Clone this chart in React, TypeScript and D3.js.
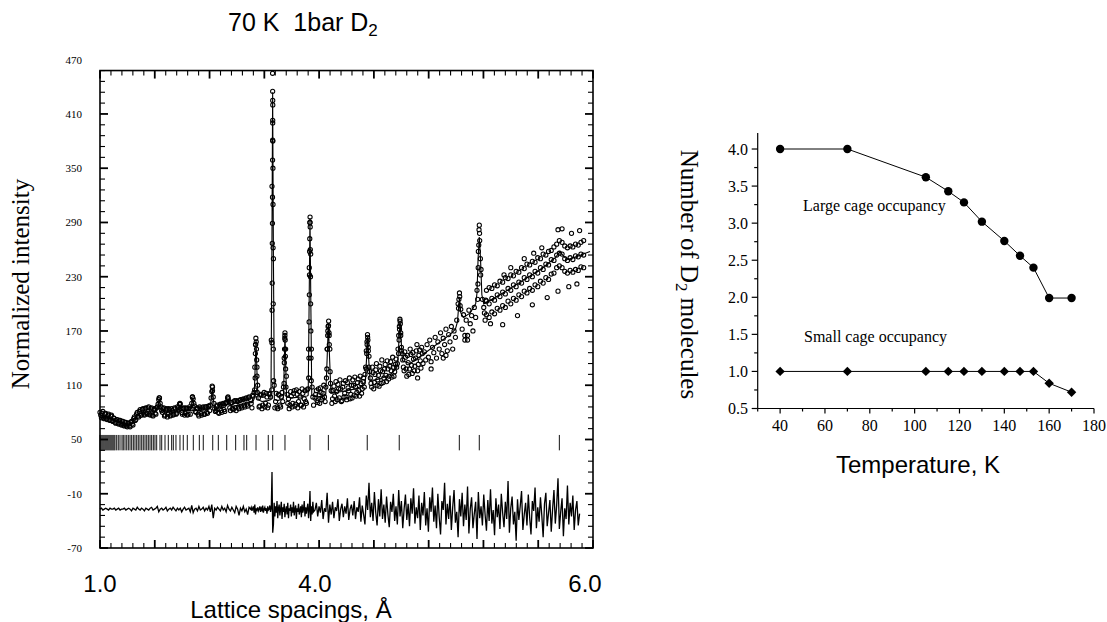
import React from "react";
import * as d3 from "d3";

// ---------------- Left panel: diffraction pattern (70 K, 1 bar D2) ----------------
const xTickLabels = ["1.0", "4.0", "6.0"];
const xTickValues = [1.0, 4.0, 6.0];
const yTickValues = [-70, -10, 50, 110, 170, 230, 290, 350, 410, 470];

// reflection positions (d-spacing, Å)
const reflections = [
  1.000, 1.014, 1.028, 1.042, 1.056, 1.070, 1.084, 1.098, 1.112, 1.126, 1.140, 1.154, 1.168, 1.182, 1.196, 1.209,
  1.233, 1.255, 1.279, 1.307, 1.325, 1.349, 1.373, 1.395, 1.419, 1.442, 1.465, 1.488, 1.512, 1.534, 1.558, 1.582,
  1.604, 1.628, 1.652, 1.674, 1.698, 1.721, 1.744, 1.767, 1.791, 1.837, 1.861, 1.907, 1.953, 2.000, 2.023, 2.060,
  2.116, 2.162, 2.218, 2.302, 2.386, 2.441, 2.573, 2.651, 2.768, 2.893, 3.009, 3.047, 3.177, 3.348, 3.410, 3.581,
  3.930, 4.099, 4.387, 4.624, 5.069, 5.217, 5.810,
];

// calculated profile [d, intensity]
const calcProfile: [number, number][] = [
  [1.000, 77], [1.070, 76], [1.140, 74], [1.210, 71], [1.279, 70], [1.349, 68], [1.400, 67], [1.440, 68], [1.490, 74],
  [1.530, 78], [1.600, 80], [1.698, 81], [1.760, 80],
  [1.795, 82], [1.815, 90], [1.827, 95], [1.840, 89], [1.860, 81],
  [1.930, 80], [2.000, 81],
  [2.090, 82], [2.116, 88], [2.140, 82],
  [2.200, 82],
  [2.265, 83], [2.282, 90], [2.293, 96], [2.305, 90], [2.325, 82],
  [2.400, 82], [2.480, 83],
  [2.535, 84], [2.553, 96], [2.567, 107], [2.580, 95], [2.600, 83],
  [2.680, 85], [2.740, 86],
  [2.770, 88], [2.786, 95], [2.800, 88],
  [2.860, 87], [2.950, 88], [3.050, 90], [3.130, 91],
  [3.150, 95], [3.163, 125], [3.177, 160], [3.190, 125], [3.205, 94],
  [3.260, 92], [3.340, 93],
  [3.385, 94], [3.398, 250], [3.409, 434], [3.420, 250], [3.433, 94],
  [3.480, 93], [3.550, 95],
  [3.560, 97], [3.570, 130], [3.581, 167], [3.592, 130], [3.603, 97],
  [3.680, 96], [3.800, 97], [3.890, 98],
  [3.905, 99], [3.918, 200], [3.930, 295], [3.942, 200], [3.955, 99],
  [4.010, 97], [4.060, 98],
  [4.080, 100], [4.090, 140], [4.099, 178], [4.108, 140], [4.118, 101],
  [4.200, 103], [4.300, 106], [4.360, 110],
  [4.372, 112], [4.382, 140], [4.390, 164], [4.398, 138], [4.408, 115],
  [4.480, 117], [4.560, 122], [4.600, 128],
  [4.612, 132], [4.622, 160], [4.630, 180], [4.638, 160], [4.648, 137],
  [4.704, 134], [4.800, 144], [4.900, 155], [5.000, 166], [5.040, 172],
  [5.055, 180], [5.069, 206], [5.080, 190], [5.100, 185], [5.150, 190], [5.190, 200],
  [5.200, 212], [5.208, 250], [5.217, 274], [5.226, 250], [5.236, 210], [5.250, 200],
  [5.370, 210], [5.520, 224], [5.670, 238], [5.780, 251], [5.815, 258], [5.845, 252], [5.874, 249], [5.950, 253],
  [6.037, 258],
];

// observed intensities on the measurement grid (start d, step in d)
const obsAStart = 1.0, obsAStep = 0.02;
const obsA = [
  80, 74, 81, 73, 79, 72, 78, 71, 77, 70,
  73, 68, 72, 67, 71, 66, 70, 65, 69, 64,
  68, 64, 70, 66, 75, 72, 80, 75, 83, 77,
  84, 77, 85, 78, 86, 77, 85, 76, 84, 78,
  86, 94, 90, 82, 84, 76, 83, 75, 84, 76,
  84, 77, 85, 78, 86, 83, 89, 80, 84, 77,
  85, 77, 84, 78, 90, 95, 87, 80, 85, 76,
  85, 77, 86, 78, 86, 79, 87, 88, 103, 97,
  84, 82, 88, 79, 89, 80, 90, 81, 91, 96,
  92, 82, 91, 83, 93, 82, 92, 84, 94, 85,
  95, 86, 96, 87, 97,
];
const obsA2Start = 1.01, obsA2Step = 0.02;
const obsA2 = [
  77, 79, 74, 78, 73, 77, 72, 76, 71, 74,
  69, 72, 68, 71, 67, 70, 66, 69, 65, 68,
  65, 69, 67, 73, 71, 78, 76, 81, 77, 83,
  78, 84, 79, 85, 78, 84, 77, 83, 79, 85,
  89, 96, 86, 80, 85, 77, 84, 78, 83, 77,
  82, 78, 84, 79, 85, 89, 84, 78, 85, 79,
  84, 78, 86, 84, 97, 90, 81, 84, 78, 86,
  79, 85, 78, 86, 80, 87, 82, 96, 108, 90,
  81, 87, 80, 88, 82, 89, 83, 90, 91, 95,
  85, 91, 84, 92, 85, 93, 86, 93, 87, 94,
  88, 95, 89, 96,
];
const obsBStart = 3.1, obsBStep = 0.02;
const obsB = [
  94, 85, 98, 130, 158, 110, 86, 100, 84, 99,
  86, 101, 85, 100, 97, 330, 250, 85, 101, 84,
  99, 86, 102, 108, 165, 120, 90, 84, 103, 86,
  101, 87, 105, 85, 103, 88, 106, 86, 104, 90,
  106, 240, 255, 108, 88,
];
const obsB2Start = 3.11, obsB2Step = 0.02;
const obsB2 = [
  90, 99, 102, 155, 130, 96, 87, 99, 88, 102,
  90, 97, 88, 101, 160, 400, 110, 92, 86, 100,
  88, 97, 92, 140, 150, 100, 95, 88, 98, 90,
  104, 89, 100, 92, 97, 88, 101, 95, 92, 105,
  150, 290, 150, 97,
];
const obsCStart = 4.0, obsCStep = 0.01;
const obsC = [
  96, 104, 91, 99, 107, 94, 101, 97, 108, 150,
  176, 150, 104, 95, 109, 92, 103, 111, 96, 106,
  93, 112, 101, 97, 113, 104, 95, 110, 116, 99,
  108, 102, 117, 98, 112, 106, 118, 122, 148, 163,
  142, 118, 108, 124, 113, 127, 110, 121, 131, 112,
  125, 118, 133, 114, 128, 120, 136, 119, 130, 125,
  139, 134, 165, 181, 152, 138, 126, 141, 120, 135,
  128, 144, 123, 139, 131, 148, 126, 143, 137, 152,
  134,
];
const obsC2Start = 4.005, obsC2Step = 0.01;
const obsC2 = [
  100, 93, 106, 90, 102, 96, 110, 92, 118, 170,
  165, 112, 90, 104, 98, 114, 94, 106, 116, 92,
  108, 97, 115, 94, 107, 118, 100, 96, 110, 119,
  98, 113, 104, 120, 101, 114, 108, 130, 158, 152,
  125, 112, 130, 106, 122, 134, 116, 109, 126, 138,
  113, 128, 121, 137, 117, 131, 126, 141, 120, 133,
  130, 150, 175, 168, 145, 130, 147, 128, 143, 122,
  150, 132, 146, 126, 140, 155, 133, 149, 129, 145,
];
const obsDStart = 4.81, obsDStep = 0.01;
const obsD = [
  147, 138, 155, 141, 160, 136, 152, 146, 163, 140,
  158, 150, 168, 145, 162, 155, 172, 148, 166, 158,
  175, 150, 170, 163, 182, 200, 212, 194, 172, 188,
  165, 182, 160, 193, 178, 187, 170, 196, 185, 215,
  258, 270, 238, 205, 196,
];
// long-d region: three detector bands
const bandStart = 5.27, bandStep = 0.02;
const bandUpper = [
  215, 218, 217, 221, 220, 225, 224, 229, 228, 232, 231, 236, 235, 240, 239, 244, 243, 247, 246, 251,
  250, 255, 254, 258, 259, 263, 266, 270, 268, 264, 262, 264, 263, 266, 265, 268, 270,
];
const bandMiddle = [
  203, 200, 206, 204, 210, 208, 213, 211, 217, 215, 221, 219, 224, 223, 229, 227, 232, 230, 236, 234,
  240, 238, 244, 243, 249, 248, 254, 256, 255, 250, 248, 251, 249, 253, 252, 255, 254,
];
const bandLower = [
  188, 185, 191, 189, 195, 193, 198, 196, 203, 200, 206, 204, 210, 208, 214, 212, 217, 215, 221, 219,
  225, 223, 229, 227, 233, 234, 240, 242, 240, 236, 234, 237, 235, 238, 237, 241, 240,
];
// extra observed points on peak flanks and scattered points [d, intensity]
const obsExtra: [number, number][] = [
  [1.825, 96], [2.115, 90], [2.29, 97], [2.565, 109], [2.57, 104], [2.786, 97],
  [3.158, 105], [3.165, 118], [3.168, 145], [3.172, 155], [3.175, 162], [3.183, 150], [3.186, 138], [3.190, 120], [3.195, 102],
  [3.397, 105], [3.399, 157], [3.401, 193], [3.403, 223], [3.404, 267], [3.406, 289], [3.407, 318], [3.408, 359],
  [3.409, 381], [3.410, 403], [3.410, 425], [3.409, 435], [3.408, 455], [3.411, 420], [3.412, 380], [3.413, 350],
  [3.414, 310], [3.415, 262], [3.417, 200], [3.419, 150], [3.422, 115],
  [3.568, 112], [3.572, 135], [3.575, 150], [3.578, 162], [3.581, 168], [3.584, 160], [3.587, 142], [3.590, 128], [3.595, 108],
  [3.912, 118], [3.915, 140], [3.918, 180], [3.921, 210], [3.923, 232], [3.925, 258], [3.927, 272], [3.929, 290],
  [3.931, 296], [3.933, 285], [3.935, 260], [3.937, 230], [3.939, 200], [3.942, 170], [3.945, 140], [3.948, 115],
  [4.088, 128], [4.091, 150], [4.094, 165], [4.097, 175], [4.101, 181], [4.104, 168], [4.106, 155], [4.112, 125],
  [4.380, 128], [4.383, 145], [4.386, 155], [4.389, 166], [4.392, 160], [4.395, 148], [4.399, 130],
  [4.619, 145], [4.623, 160], [4.626, 172], [4.629, 183], [4.632, 178], [4.635, 165], [4.640, 148],
  [5.063, 195], [5.066, 205], [5.072, 208], [5.075, 198],
  [5.205, 205], [5.207, 222], [5.209, 240], [5.213, 265], [5.215, 282], [5.217, 287], [5.219, 278], [5.225, 250], [5.227, 232],
  [5.255, 190], [5.26, 182], [5.265, 204],
  [5.30, 178], [5.39, 177], [5.50, 187], [5.61, 199], [5.72, 207], [5.80, 214], [5.88, 219], [5.94, 222],
  [5.40, 232], [5.45, 240], [5.55, 250], [5.62, 256], [5.68, 262], [5.80, 282], [5.83, 283], [5.90, 278], [5.96, 281],
  [4.95, 140], [4.97, 143], [5.11, 160], [5.13, 165], [4.86, 128], [4.76, 118],
];

// difference curve (obs - calc, offset), on the measurement grid
const diffAStart = 1.0, diffAStep = 0.02;
const diffA = [
  -27, -26, -28, -27, -26, -27, -28, -26, -27, -27,
  -26, -28, -27, -26, -28, -27, -27, -26, -28, -27,
  -26, -27, -29, -26, -27, -28, -25, -27, -28, -26,
  -27, -29, -26, -27, -28, -26, -25, -28, -27, -26,
  -24, -30, -27, -26, -28, -27, -25, -29, -27, -26,
  -28, -25, -27, -29, -26, -28, -26, -30, -27, -25,
  -28, -27, -26, -30, -23, -31, -27, -26, -29, -24,
  -28, -27, -25, -29, -26, -28, -24, -30, -22, -37,
  -26, -28, -25, -27, -29, -24, -28, -26, -30, -23,
  -27, -29, -25, -28, -31, -24, -27, -34, -26, -29,
  -24, -30, -27, -33, -25,
];
const diffBStart = 3.1, diffBStep = 0.01;
const diffB = [
  -27, -25, -29, -26, -24, -31, -22, -33, -26, -28,
  -25, -29, -27, -24, -30, -26, -28, -23, -31, -27,
  -25, -29, -26, -32, -24, -28, -27, -23, -30, -26,
  14, -53, -44, -20, -35, -24, -31, -18, -37, -26,
  -22, -34, -27, -19, -38, -25, -30, -21, -36, -28,
  -24, -33, -20, -37, -26, -29, -22, -35, -25, -31,
  -19, -34, -27, -23, -38, -26, -30, -21, -33, -28,
  -24, -36, -22, -31, -27, -18, -35, -25, -32, -26,
  -21, -37, -28, -7, -40, -24, -33, -19, -30,
];
const diffCStart = 4.0, diffCStep = 0.01;
const diffC = [
  -28, -20, -35, -24, -31, -17, -38, -26, -30, -9,
  -42, -22, -33, -19, -37, -25, -29, -16, -40, -27,
  -21, -36, -24, -32, -15, -39, -27, -22, -34, -18,
  -38, -25, -30, -14, -41, -23, -33, -44, -12, -28,
  2, -36, -20, -40, -8, -31, -45, -16, -35, -5,
  -38, -22, -42, -13, -33, -47, -19, -30, -10, -40,
  -24, -44, -6, -35, -18, -48, -27, -11, -39, -21,
  -46, -15, -32, -4, -43, -25, -37, -12, -50, -20,
  -34, -8, -45, -26, -52, -14, -30, -3, -41, -23,
  -48, -10, -36, -55, -18, -28, 2, -44, -21, -38,
  -12, -50, -25, -6, -42, -30, -58, -16, -35, -9,
  -46, -22, -39, -2, -54, -27, -14, -48, -32, -19,
  -60, -8, -37, -24, -45, -11, -33, -51, -17, -40,
  -5, -43, -28, -56, -15, -36, -22, -49, -10, -31,
  -47, -19, -38, 4, -53, -26, -13, -44, -30, -62,
  -16, -39, -24, -7, -50, -33, -20, -45, -11, -36,
  -55, -18, -29, -3, -48, -25, -41, -14, -34, -58,
  -21, -9, -46, -31, -17, -52, -27, -6, -43, -23,
  7, -49, -30, -15, -57, -26, -38, -1, -44, -20,
  -35, -12, -50, -28, -18, -45, -32,
];

// ---------------- Right panel: cage occupancy vs temperature ----------------
const temperatures = [40, 70, 105, 115, 122, 130, 140, 147, 153, 160, 170];
const largeCage = [4.0, 4.0, 3.62, 3.43, 3.28, 3.02, 2.76, 2.56, 2.40, 1.99, 1.99];
const smallCage = [1.0, 1.0, 1.0, 1.0, 1.0, 1.0, 1.0, 1.0, 1.0, 0.84, 0.72];
const tempMajorTicks = [40, 60, 80, 100, 120, 140, 160, 180];
const tempMinorTicks = [30, 50, 70, 90, 110, 130, 150, 170];
const occMajorTicks = [0.5, 1.0, 1.5, 2.0, 2.5, 3.0, 3.5, 4.0];
const occMinorTicks = [0.75, 1.25, 1.75, 2.25, 2.75, 3.25, 3.75];

const SERIF = "'Liberation Serif', 'Times New Roman', serif";
const SANS = "'Liberation Sans', Arial, sans-serif";

const expand = (start: number, step: number, vals: number[]): [number, number][] =>
  vals.map((v, i) => [start + i * step, v]);

export default function App() {
  // left scales (hand-labelled d-spacing axis, piecewise linear)
  const xL = d3.scaleLinear().domain([1, 4, 6]).range([100, 315, 585]);
  const yL = d3.scaleLinear().domain([-70, 470]).range([548, 59.7]);
  const fLeft = 100, fRight = 593, fBottom = yL(-70), fTop = yL(458);
  const frameX = d3.scaleLinear().domain([0, 45]).range([fLeft, fRight]);

  const obsPoints: [number, number][] = [
    ...expand(obsAStart, obsAStep, obsA),
    ...expand(obsA2Start, obsA2Step, obsA2),
    ...expand(obsBStart, obsBStep, obsB),
    ...expand(obsB2Start, obsB2Step, obsB2),
    ...expand(obsCStart, obsCStep, obsC),
    ...expand(obsC2Start, obsC2Step, obsC2),
    ...expand(obsDStart, obsDStep, obsD),
    ...expand(bandStart, bandStep, bandUpper),
    ...expand(bandStart, bandStep, bandMiddle),
    ...expand(bandStart, bandStep, bandLower),
    ...obsExtra,
  ];
  const diffPoints: [number, number][] = [
    ...expand(diffAStart, diffAStep, diffA),
    ...expand(diffBStart, diffBStep, diffB),
    ...expand(diffCStart, diffCStep, diffC),
  ];
  const line = d3.line<[number, number]>().x((d) => xL(d[0])).y((d) => yL(d[1]));

  const yFrameTicks = d3.range(-70, 459, 12);
  const xFrameTicks = d3.range(0, 46, 1);

  // right scales
  const xR = d3.scaleLinear().domain([30, 180]).range([757.7, 1094]);
  const yR = d3.scaleLinear().domain([0.5, 4.216]).range([408.5, 133]);
  const lineR = d3.line<number>().x((_, i) => xR(temperatures[i])).y((v) => yR(v));
  const diamond = d3.symbol().type(d3.symbolSquare).size(44)() as string;

  return (
    <svg width={1107} height={622} style={{ position: "absolute", left: 0, top: 0, background: "#fff" }}>
      <rect x={0} y={0} width={1107} height={622} fill="#fff" />
      {/* ---------- LEFT PANEL ---------- */}
      <text x={228} y={31} fontFamily={SANS} fontSize={25} style={{ whiteSpace: "pre" }} fill="#000">
        70 K  1bar D<tspan fontSize={17} dy={5}>2</tspan>
      </text>

      <g>
        {obsPoints.map((p, i) => (
          <circle key={i} cx={xL(p[0])} cy={yL(p[1])} r={2.1} fill="none" stroke="#000" strokeWidth={1.05} />
        ))}
      </g>
      <path d={line(calcProfile) || ""} fill="none" stroke="#000" strokeWidth={1.1} />
      <path d={line(diffPoints) || ""} fill="none" stroke="#000" strokeWidth={1.3} />

      <g stroke="#111" strokeWidth={1}>
        {reflections.map((d, i) => (
          <line key={i} x1={xL(d)} x2={xL(d)} y1={yL(55)} y2={yL(38)} />
        ))}
      </g>

      {/* frame */}
      <rect x={fLeft} y={fTop} width={fRight - fLeft} height={fBottom - fTop} fill="none" stroke="#000" strokeWidth={1.6} />
      <g stroke="#000" strokeWidth={1.2}>
        {yFrameTicks.map((v) => {
          const major = (v + 70) % 60 === 0;
          const len = major ? 8 : 5;
          return (
            <g key={"yt" + v}>
              <line x1={fLeft} x2={fLeft + len} y1={yL(v)} y2={yL(v)} strokeWidth={major ? 1.8 : 1.1} />
              <line x1={fRight} x2={fRight - len} y1={yL(v)} y2={yL(v)} strokeWidth={major ? 1.8 : 1.1} />
            </g>
          );
        })}
        {xFrameTicks.map((i) => {
          const major = i % 5 === 0;
          const len = major ? 8 : 5;
          return (
            <g key={"xt" + i}>
              <line x1={frameX(i)} x2={frameX(i)} y1={fTop} y2={fTop + len} strokeWidth={major ? 1.8 : 1.1} />
              <line x1={frameX(i)} x2={frameX(i)} y1={fBottom} y2={fBottom - len} strokeWidth={major ? 1.8 : 1.1} />
            </g>
          );
        })}
      </g>
      {yTickValues.map((v) => (
        <text key={"yl" + v} x={82} y={yL(v)} textAnchor="end" dominantBaseline="central" fontFamily={SERIF} fontSize={11} fill="#000">
          {String(v)}
        </text>
      ))}
      {xTickValues.map((v, i) => (
        <text key={"xl" + v} x={xL(v)} y={592} textAnchor="middle" fontFamily={SANS} fontSize={24} fill="#000">
          {xTickLabels[i]}
        </text>
      ))}
      <text x={291} y={618} textAnchor="middle" fontFamily={SANS} fontSize={24} fill="#000">
        Lattice spacings, Å
      </text>
      <text transform="translate(29,284) rotate(-90)" textAnchor="middle" fontFamily={SERIF} fontSize={25} fill="#000">
        Normalized intensity
      </text>

      {/* ---------- RIGHT PANEL ---------- */}
      <g stroke="#000" strokeWidth={1.2}>
        <line x1={xR(30)} x2={xR(30)} y1={yR(4.216)} y2={yR(0.5)} />
        <line x1={xR(30)} x2={xR(180)} y1={yR(0.5)} y2={yR(0.5)} />
        {occMajorTicks.map((v) => (
          <line key={"om" + v} x1={xR(30) - 6} x2={xR(30)} y1={yR(v)} y2={yR(v)} />
        ))}
        {occMinorTicks.map((v) => (
          <line key={"on" + v} x1={xR(30) - 3.5} x2={xR(30)} y1={yR(v)} y2={yR(v)} />
        ))}
        {tempMajorTicks.map((v) => (
          <line key={"tm" + v} x1={xR(v)} x2={xR(v)} y1={yR(0.5)} y2={yR(0.5) + 5} />
        ))}
        {tempMinorTicks.map((v) => (
          <line key={"tn" + v} x1={xR(v)} x2={xR(v)} y1={yR(0.5)} y2={yR(0.5) + 3} />
        ))}
      </g>
      {occMajorTicks.map((v) => (
        <text key={"ol" + v} x={748} y={yR(v)} textAnchor="end" dominantBaseline="central" fontFamily={SERIF} fontSize={16} fill="#000">
          {v.toFixed(1)}
        </text>
      ))}
      {tempMajorTicks.map((v) => (
        <text key={"tl" + v} x={xR(v)} y={431} textAnchor="middle" fontFamily={SERIF} fontSize={16} fill="#000">
          {v}
        </text>
      ))}

      <path d={lineR(largeCage) || ""} fill="none" stroke="#000" strokeWidth={1} />
      <path d={lineR(smallCage) || ""} fill="none" stroke="#000" strokeWidth={1} />
      {largeCage.map((v, i) => (
        <circle key={"lc" + i} cx={xR(temperatures[i])} cy={yR(v)} r={4.2} fill="#000" />
      ))}
      {smallCage.map((v, i) => (
        <path key={"sc" + i} d={diamond} transform={`translate(${xR(temperatures[i])},${yR(v)}) rotate(45)`} fill="#000" />
      ))}

      <text x={803} y={211} fontFamily={SERIF} fontSize={16} fill="#000">Large cage occupancy</text>
      <text x={804} y={342} fontFamily={SERIF} fontSize={16} fill="#000">Small cage occupancy</text>

      <text transform="translate(681,274.5) rotate(90)" textAnchor="middle" fontFamily={SERIF} fontSize={25} fill="#000">
        Number of D<tspan fontSize={17} dy={5}>2</tspan><tspan dy={-5}> molecules</tspan>
      </text>
      <text x={918} y={473} textAnchor="middle" fontFamily={SANS} fontSize={24} fill="#000">
        Temperature, K
      </text>
    </svg>
  );
}
